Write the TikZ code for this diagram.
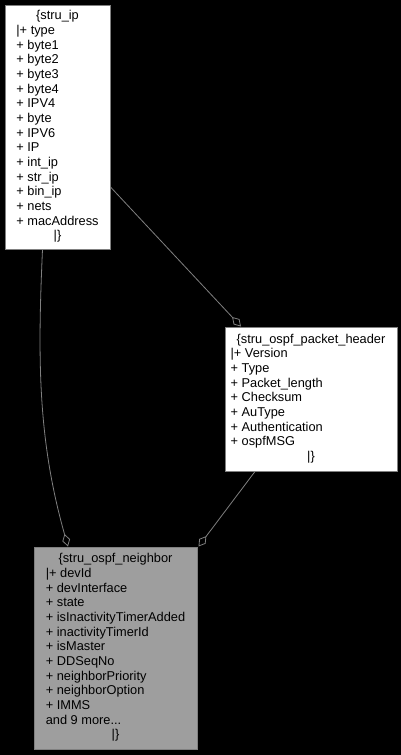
\documentclass[tikz,border=0pt]{standalone}
\usepackage{fontspec}
\setmainfont{Liberation Sans}
\usetikzlibrary{arrows.meta, positioning}

\definecolor{edgegray}{RGB}{128,128,128}
\definecolor{focusgray}{RGB}{158,158,158}

\newcommand{\centred}[1]{\multicolumn{1}{c}{#1}}

\begin{document}
\begin{tikzpicture}[
     x = 1pt, y = -1pt,
every node/.style = {font=\fontsize{12.8}{14.67}\selectfont, text=black},
        cls/.style = {rectangle, draw=edgegray, line width=1pt, fill=white, inner sep=0pt},
      focus/.style = {cls, fill=focusgray},
     member/.style = {draw=edgegray, line width=0.8pt, -{Diamond[open, length=13pt, width=8pt]}}
                        ]
\fill[black] (0,0) rectangle (401,755);
% classes
\node (ip)[cls, minimum width=105pt, minimum height=244pt] at (57.5,127)
  {\begin{tabular}{@{}l@{}}
   \centred{\{stru\_ip}\\
   |+ type\\ + byte1\\ + byte2\\ + byte3\\ + byte4\\ + IPV4\\ + byte\\
   + IPV6\\ + IP\\ + int\_ip\\ + str\_ip\\ + bin\_ip\\ + nets\\ + macAddress\\
   \centred{|\}}
   \end{tabular}};
\node (header)[cls, minimum width=172pt, minimum height=144pt] at (311,399)
  {\begin{tabular}{@{}l@{}}
   \centred{\{stru\_ospf\_packet\_header}\\
   |+ Version\\ + Type\\ + Packet\_length\\ + Checksum\\ + AuType\\
   + Authentication\\ + ospfMSG\\
   \centred{|\}}
   \end{tabular}};
\node (neighbor)[focus, minimum width=163pt, minimum height=202pt] at (115.5,648)
  {\begin{tabular}{@{}l@{}}
   \centred{\{stru\_ospf\_neighbor}\\
   |+ devId\\ + devInterface\\ + state\\ + isInactivityTimerAdded\\
   + inactivityTimerId\\ + isMaster\\ + DDSeqNo\\ + neighborPriority\\
   + neighborOption\\ + IMMS\\ and 9 more...\\
   \centred{|\}}
   \end{tabular}};
% members
\draw[member] ([xshift=-15pt]ip.south) .. controls +(-5,111) and +(-30,-106) .. ([xshift=-47.5pt]neighbor.north);
\draw[member] ([yshift=-60pt]ip.east) to ([xshift=-70pt]header.north);
\draw[member] ([xshift=-56pt]header.south) to ([xshift=1pt]neighbor.north east);
\end{tikzpicture}
\end{document}
